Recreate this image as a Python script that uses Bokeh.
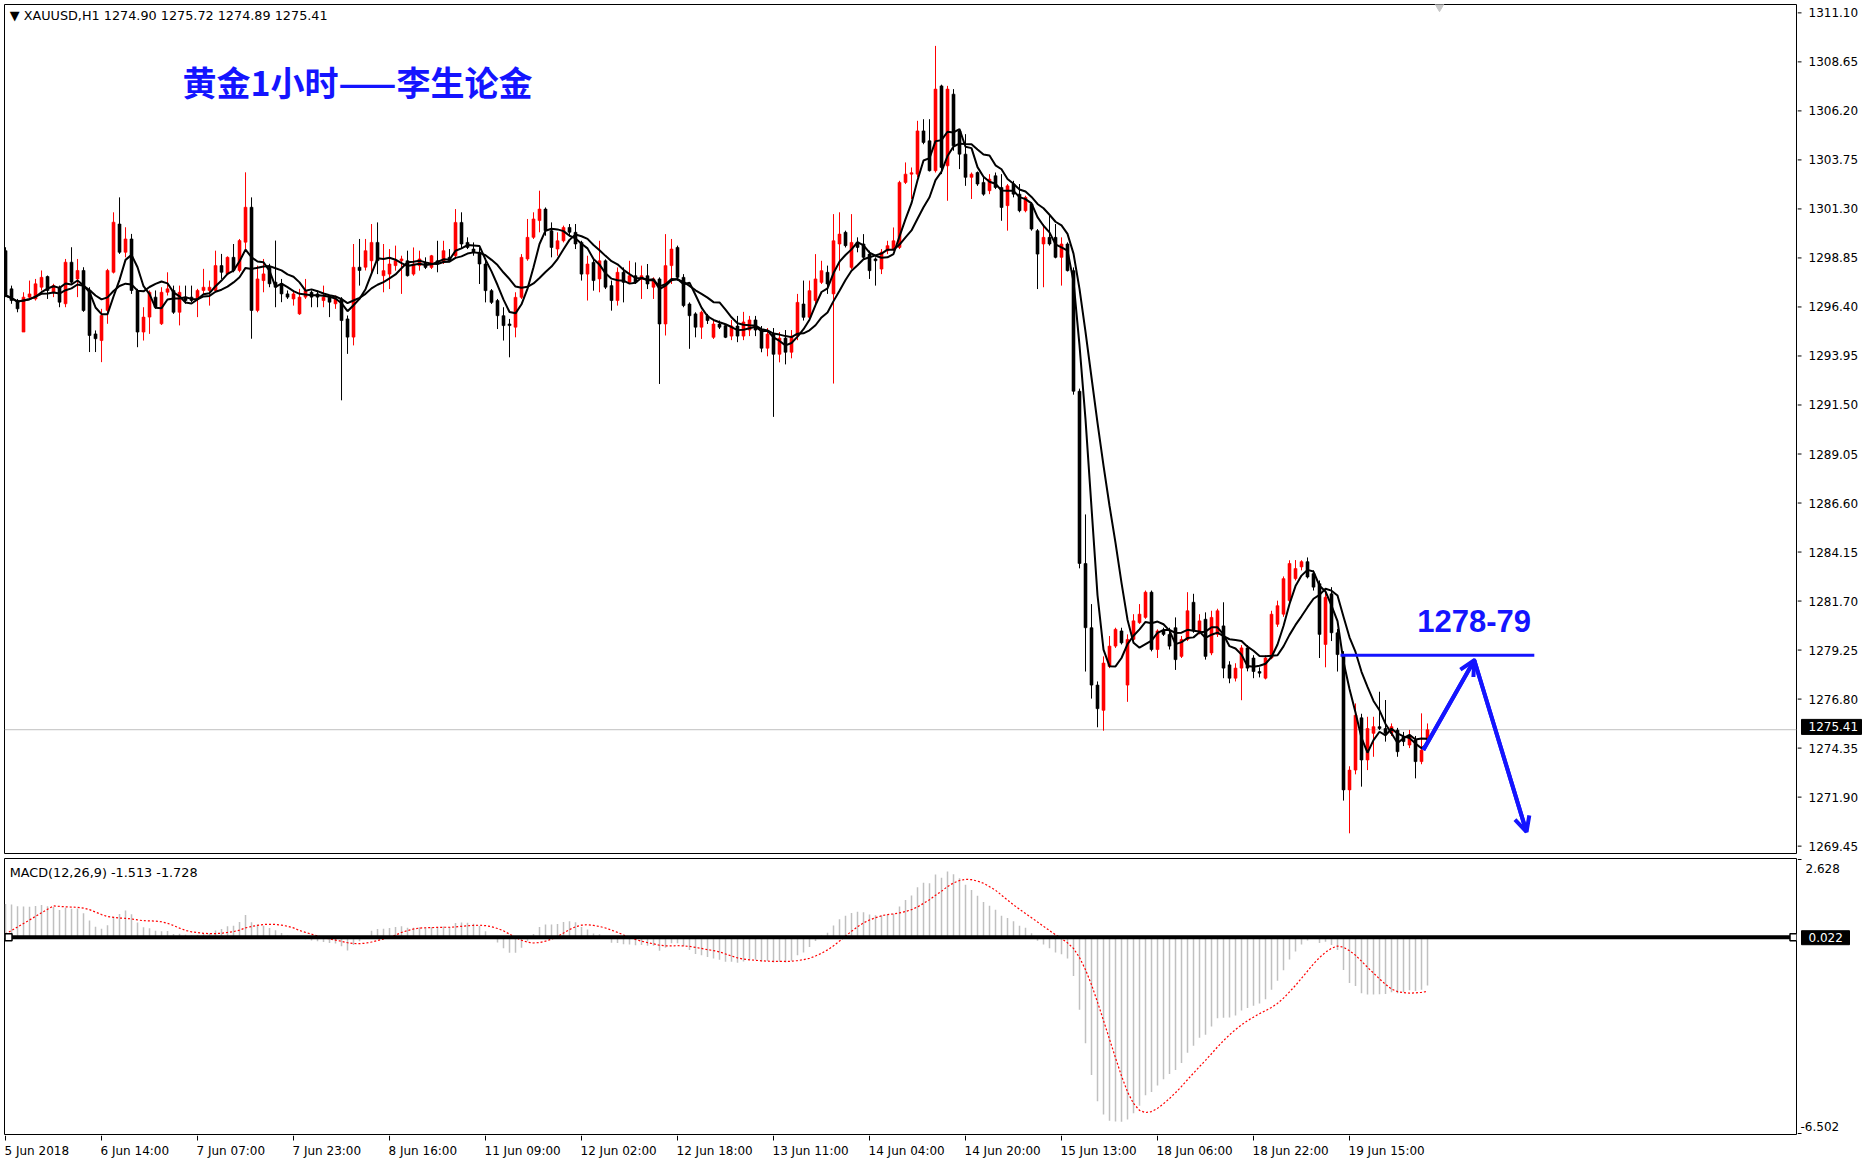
import numpy as np
import pandas as pd
from bokeh.plotting import figure
from bokeh.layouts import column, row
from bokeh.models import ColumnDataSource, Range1d, Span, Label, Arrow, OpenHead
from bokeh.embed import file_html
from bokeh.resources import INLINE
from bokeh.core.properties import value

# ---------------- data (XAUUSD H1) ----------------
opens = [
    1299.13, 1297.24, 1296.66, 1295.10, 1296.83, 1296.74, 1297.32, 1297.85, 1297.07, 1297.32,
    1296.50, 1298.56, 1297.73, 1298.15, 1297.16, 1295.01, 1294.68, 1296.17, 1298.06, 1300.45,
    1299.05, 1299.71, 1297.16, 1295.10, 1295.84, 1296.83, 1295.51, 1297.07, 1297.16, 1296.08,
    1296.83, 1296.83, 1296.74, 1297.16, 1297.16, 1297.16, 1298.39, 1297.98, 1298.80, 1298.15,
    1299.55, 1301.28, 1296.17, 1297.65, 1298.31, 1297.57, 1297.49, 1296.99, 1296.74, 1296.00,
    1296.83, 1297.07, 1296.99, 1296.66, 1296.83, 1296.50, 1296.74, 1295.75, 1294.85, 1298.31,
    1298.31, 1298.63, 1299.54, 1297.89, 1297.97, 1298.39, 1298.63, 1298.63, 1297.97, 1298.39,
    1298.55, 1298.30, 1298.63, 1298.55, 1298.80, 1298.88, 1300.53, 1299.54, 1299.21, 1299.05,
    1298.47, 1297.15, 1296.66, 1295.91, 1295.50, 1295.34, 1296.82, 1298.72, 1299.79, 1300.62,
    1301.19, 1300.12, 1299.21, 1299.62, 1300.28, 1300.04, 1299.54, 1297.97, 1298.55, 1297.73,
    1298.63, 1297.40, 1296.66, 1298.06, 1297.56, 1297.89, 1297.73, 1297.89, 1297.32, 1297.73,
    1295.50, 1298.39, 1299.29, 1297.81, 1296.49, 1296.00, 1295.34, 1295.91, 1294.84, 1295.50,
    1295.42, 1294.90, 1295.40, 1294.90, 1295.20, 1295.70, 1295.20, 1294.30, 1295.00, 1294.00,
    1294.80, 1294.10, 1294.90, 1296.49, 1295.83, 1296.66, 1297.56, 1298.06, 1296.99, 1299.46,
    1300.04, 1298.30, 1299.54, 1299.46, 1298.96, 1298.72, 1298.22, 1299.13, 1299.21, 1299.29,
    1302.51, 1302.92, 1302.92, 1305.06, 1304.57, 1303.09, 1307.29, 1303.33, 1306.88, 1305.06,
    1303.91, 1302.76, 1303.00, 1302.51, 1302.10, 1302.84, 1302.26, 1301.36, 1302.43, 1301.93,
    1301.11, 1301.44, 1300.12, 1299.46, 1299.79, 1299.79, 1298.80, 1299.46, 1298.14, 1292.17,
    1283.64, 1280.46, 1277.62, 1276.37, 1278.54, 1279.55, 1280.30, 1277.62, 1279.88, 1280.71,
    1280.97, 1282.22, 1279.38, 1280.30, 1280.13, 1280.46, 1279.04, 1279.88, 1281.72, 1280.21,
    1280.88, 1279.21, 1280.13, 1280.55, 1278.62, 1277.96, 1278.46, 1279.46, 1278.96, 1278.29,
    1277.96, 1278.96, 1280.63, 1281.13, 1281.80, 1282.89, 1283.47, 1283.73, 1283.14, 1282.64,
    1279.63, 1282.14, 1280.21, 1279.10, 1272.43, 1273.41, 1276.00, 1273.91, 1275.23, 1275.56,
    1275.47, 1275.23, 1275.39, 1275.07, 1274.65, 1274.90, 1273.83, 1274.90,
]
highs = [
    1299.30, 1297.40, 1296.74, 1297.07, 1297.65, 1297.73, 1298.15, 1297.90, 1297.49, 1297.40,
    1298.72, 1299.30, 1298.72, 1298.31, 1297.32, 1295.18, 1296.25, 1298.23, 1301.03, 1301.77,
    1300.29, 1299.96, 1297.24, 1296.33, 1297.16, 1297.16, 1297.32, 1298.06, 1297.40, 1297.40,
    1297.40, 1297.40, 1297.24, 1298.23, 1297.65, 1299.13, 1298.97, 1298.85, 1299.46, 1299.71,
    1303.01, 1301.77, 1298.39, 1298.72, 1298.48, 1299.63, 1297.73, 1297.16, 1297.16, 1297.24,
    1297.73, 1297.16, 1297.16, 1297.40, 1296.91, 1296.91, 1296.83, 1295.92, 1299.46, 1299.71,
    1299.71, 1300.45, 1300.53, 1299.46, 1299.21, 1299.38, 1298.88, 1299.13, 1299.29, 1299.13,
    1298.80, 1298.92, 1299.62, 1299.62, 1299.21, 1301.19, 1301.03, 1299.79, 1299.54, 1299.29,
    1298.63, 1297.23, 1296.74, 1296.33, 1295.75, 1297.07, 1298.96, 1300.70, 1301.03, 1302.10,
    1301.27, 1300.53, 1300.04, 1300.37, 1300.45, 1300.45, 1299.62, 1298.88, 1298.72, 1299.62,
    1298.70, 1297.65, 1298.30, 1298.30, 1298.63, 1298.55, 1298.39, 1298.47, 1297.81, 1297.81,
    1299.95, 1299.71, 1299.38, 1297.97, 1296.57, 1296.08, 1296.16, 1296.00, 1295.75, 1295.67,
    1295.50, 1295.70, 1295.90, 1296.10, 1295.90, 1295.90, 1295.40, 1295.30, 1295.30, 1295.10,
    1295.20, 1295.20, 1296.99, 1297.65, 1297.65, 1298.96, 1298.63, 1298.39, 1300.94, 1301.03,
    1300.12, 1300.94, 1299.79, 1299.95, 1299.13, 1298.80, 1299.21, 1299.62, 1300.28, 1302.59,
    1303.50, 1303.25, 1305.56, 1305.64, 1305.64, 1309.27, 1307.35, 1307.29, 1307.13, 1305.10,
    1304.90, 1303.00, 1303.05, 1302.76, 1302.92, 1303.00, 1302.92, 1302.43, 1302.59, 1302.43,
    1301.85, 1301.52, 1300.20, 1300.45, 1300.94, 1300.45, 1299.79, 1299.54, 1298.30, 1292.30,
    1286.07, 1281.63, 1277.80, 1279.04, 1280.05, 1280.46, 1280.46, 1280.13, 1281.13, 1281.63,
    1282.30, 1282.30, 1280.38, 1280.46, 1280.46, 1280.97, 1280.05, 1282.22, 1282.14, 1281.13,
    1281.22, 1281.30, 1281.40, 1281.72, 1278.80, 1278.70, 1279.60, 1279.60, 1279.10, 1278.50,
    1279.10, 1281.30, 1281.80, 1283.00, 1283.80, 1283.81, 1283.80, 1283.94, 1283.30, 1282.80,
    1282.30, 1282.47, 1280.40, 1279.30, 1273.60, 1276.71, 1276.20, 1276.05, 1276.05, 1277.29,
    1276.88, 1275.72, 1275.50, 1275.30, 1275.40, 1275.10, 1276.22, 1275.72,
]
lows = [
    1296.83, 1296.50, 1296.08, 1295.10, 1296.74, 1296.66, 1297.16, 1296.74, 1296.83, 1296.33,
    1296.33, 1297.49, 1296.83, 1296.10, 1294.11, 1294.11, 1293.61, 1295.51, 1298.00, 1298.97,
    1298.80, 1296.99, 1294.35, 1294.68, 1295.01, 1296.25, 1295.45, 1296.91, 1296.00, 1295.43,
    1296.50, 1296.58, 1295.84, 1296.99, 1296.41, 1297.07, 1297.73, 1297.92, 1298.06, 1298.06,
    1299.13, 1294.77, 1296.08, 1297.07, 1297.32, 1296.33, 1296.58, 1296.74, 1296.41, 1295.95,
    1296.74, 1296.33, 1296.33, 1296.33, 1295.84, 1296.25, 1291.72, 1294.02, 1294.44, 1297.40,
    1298.15, 1297.97, 1297.97, 1297.07, 1297.23, 1298.14, 1296.99, 1297.85, 1297.89, 1298.14,
    1298.22, 1298.22, 1298.06, 1298.47, 1298.60, 1298.80, 1299.21, 1299.21, 1298.88, 1297.48,
    1296.57, 1296.49, 1295.25, 1294.68, 1293.85, 1294.84, 1296.74, 1298.63, 1299.71, 1300.04,
    1299.87, 1298.80, 1298.88, 1299.54, 1299.87, 1299.21, 1297.65, 1296.66, 1297.15, 1297.07,
    1297.23, 1296.16, 1296.41, 1296.57, 1297.48, 1297.48, 1296.74, 1297.23, 1296.74, 1292.53,
    1294.93, 1297.48, 1297.65, 1296.33, 1294.27, 1294.84, 1294.76, 1295.50, 1294.76, 1295.25,
    1294.80, 1294.70, 1294.60, 1294.70, 1294.90, 1294.90, 1294.10, 1293.90, 1290.90, 1293.60,
    1293.50, 1293.80, 1294.70, 1295.67, 1295.67, 1296.49, 1297.48, 1296.99, 1292.55, 1298.14,
    1299.29, 1298.22, 1299.05, 1298.72, 1297.73, 1297.40, 1297.97, 1298.96, 1299.13, 1299.21,
    1302.43, 1301.69, 1302.76, 1304.40, 1303.05, 1303.00, 1302.92, 1301.60, 1304.08, 1303.17,
    1302.34, 1301.69, 1302.34, 1301.85, 1301.93, 1302.18, 1300.61, 1300.12, 1301.77, 1301.03,
    1301.03, 1300.12, 1297.23, 1297.32, 1299.38, 1298.75, 1297.40, 1298.10, 1292.00, 1283.40,
    1278.29, 1276.95, 1275.53, 1275.36, 1278.46, 1279.46, 1279.63, 1276.79, 1279.80, 1280.65,
    1280.90, 1279.29, 1278.96, 1280.05, 1279.38, 1278.37, 1278.96, 1279.80, 1280.21, 1280.13,
    1278.88, 1279.10, 1280.00, 1277.96, 1277.71, 1277.80, 1276.87, 1278.30, 1277.96, 1278.00,
    1277.90, 1278.90, 1280.50, 1281.00, 1281.70, 1282.80, 1283.30, 1282.90, 1282.30, 1278.96,
    1278.50, 1279.80, 1278.29, 1271.90, 1270.28, 1273.20, 1272.59, 1273.41, 1274.07, 1275.39,
    1274.82, 1275.10, 1274.07, 1274.60, 1274.50, 1273.00, 1273.70, 1274.89,
]
closes = [
    1296.91, 1296.66, 1296.25, 1296.83, 1296.99, 1297.49, 1297.81, 1297.16, 1297.40, 1296.58,
    1298.56, 1297.57, 1298.15, 1296.17, 1294.93, 1294.77, 1295.92, 1298.15, 1300.54, 1299.05,
    1299.71, 1297.16, 1295.10, 1295.84, 1297.07, 1296.33, 1297.07, 1297.24, 1296.08, 1297.07,
    1296.66, 1296.66, 1297.16, 1297.32, 1297.32, 1298.39, 1298.06, 1298.80, 1298.15, 1299.63,
    1301.28, 1296.17, 1297.73, 1297.98, 1297.49, 1297.32, 1296.99, 1296.83, 1296.99, 1296.83,
    1297.16, 1296.83, 1296.83, 1296.83, 1296.58, 1296.74, 1295.67, 1294.85, 1298.31, 1298.15,
    1299.13, 1299.54, 1298.63, 1298.14, 1298.47, 1298.63, 1298.72, 1297.89, 1298.47, 1298.72,
    1298.30, 1298.88, 1298.47, 1299.13, 1298.63, 1300.53, 1299.46, 1299.29, 1299.05, 1298.47,
    1297.15, 1296.57, 1295.91, 1295.42, 1295.42, 1296.82, 1298.80, 1299.79, 1300.70, 1301.19,
    1300.12, 1299.29, 1299.62, 1300.28, 1300.04, 1299.46, 1297.97, 1298.47, 1297.65, 1298.63,
    1297.32, 1296.66, 1298.06, 1297.56, 1297.89, 1297.56, 1297.89, 1297.48, 1297.73, 1295.50,
    1298.39, 1299.21, 1297.81, 1296.41, 1295.91, 1295.34, 1296.08, 1295.67, 1295.50, 1295.34,
    1294.84, 1295.40, 1294.90, 1295.60, 1295.70, 1295.20, 1294.30, 1295.00, 1294.00, 1294.80,
    1294.10, 1294.90, 1296.57, 1295.83, 1297.15, 1297.73, 1298.14, 1297.48, 1299.62, 1299.95,
    1299.38, 1299.54, 1299.29, 1298.80, 1298.14, 1298.63, 1299.05, 1299.38, 1299.62, 1302.51,
    1302.92, 1302.99, 1305.06, 1304.49, 1303.09, 1307.13, 1303.25, 1307.13, 1304.32, 1303.91,
    1302.76, 1302.92, 1302.43, 1301.93, 1302.67, 1302.26, 1301.27, 1302.34, 1301.93, 1301.11,
    1301.77, 1300.20, 1298.96, 1299.79, 1299.46, 1298.80, 1299.46, 1298.14, 1292.17, 1283.64,
    1280.46, 1277.62, 1276.45, 1278.71, 1279.55, 1280.38, 1279.71, 1279.88, 1280.80, 1281.13,
    1282.22, 1279.38, 1280.30, 1280.13, 1279.55, 1278.88, 1279.88, 1281.30, 1280.30, 1280.80,
    1279.04, 1280.97, 1281.30, 1278.46, 1277.96, 1278.46, 1279.46, 1278.46, 1278.29, 1278.21,
    1278.96, 1281.13, 1281.55, 1282.89, 1283.64, 1283.39, 1283.73, 1282.97, 1282.47, 1280.13,
    1281.97, 1280.21, 1279.13, 1272.43, 1273.41, 1276.13, 1273.91, 1275.47, 1275.56, 1275.47,
    1275.23, 1275.56, 1274.32, 1274.82, 1275.07, 1273.83, 1274.40, 1275.41,
]

time_labels = ["5 Jun 2018", "6 Jun 14:00", "7 Jun 07:00", "7 Jun 23:00", "8 Jun 16:00",
               "11 Jun 09:00", "12 Jun 02:00", "12 Jun 18:00", "13 Jun 11:00", "14 Jun 04:00",
               "14 Jun 20:00", "15 Jun 13:00", "18 Jun 06:00", "18 Jun 22:00", "19 Jun 15:00"]
time_label_bars = [0, 16, 32, 48, 64, 80, 96, 112, 128, 144, 160, 176, 192, 208, 224]

price_ticks = [1269.45, 1271.90, 1274.35, 1276.80, 1279.25, 1281.70, 1284.15, 1286.60, 1289.05,
               1291.50, 1293.95, 1296.40, 1298.85, 1301.30, 1303.75, 1306.20, 1308.65, 1311.10]
price_view = [1269.28, 1311.32]
macd_max, macd_min = 2.628, -6.502

ma_fast, ma_slow = 5, 10
macd_fast, macd_slow, macd_signal = 12, 26, 9
ema_fast_start, ema_slow_start = 1295.6, 1294.5   # EMA states before the first bar

bid_price = 1275.41
macd_hline = 0.022
hline_bars = [0.5, 298.0]
target_level = 1279.10
target_bars = [222.5, 254.8]
arrow_bars = [236.3, 244.8, 253.5]
arrow_prices = [1274.40, 1278.85, 1270.35]
shift_marker_bar = 239

header_text = "\u25BC XAUUSD,H1  1274.90 1275.72 1274.89 1275.41"
macd_text = "MACD(12,26,9) -1.513 -1.728"
title_text = "黄金1小时——李生论金"
target_text = "1278-79"

BLUE = "#1414ff"
FONT = "DejaVu Sans"

# ---------------- derived series ----------------
o = np.array(opens); h = np.array(highs); l = np.array(lows); c = np.array(closes)
n = len(c)
x = np.arange(n)
cols = np.where(c >= o, "#ff0000", "#000000")
src = ColumnDataSource(dict(x=x, o=o, h=h, l=l, c=c, top=np.maximum(o, c),
                            bottom=np.minimum(o, c), color=cols))

ma5 = pd.Series(c).rolling(ma_fast, min_periods=1).mean().values
ma10 = pd.Series(c).rolling(ma_slow, min_periods=1).mean().values

a_f, a_s = 2.0 / (macd_fast + 1), 2.0 / (macd_slow + 1)
ef, es = ema_fast_start, ema_slow_start
macd = np.empty(n)
for i in range(n):
    ef += a_f * (c[i] - ef)
    es += a_s * (c[i] - es)
    macd[i] = ef - es
padded = np.concatenate([np.zeros(macd_signal - 1), macd])
signal = np.convolve(padded, np.ones(macd_signal) / macd_signal, mode="valid")

# ---------------- layout constants (pixels) ----------------
PW = 1797          # chart panels width (frame 4..1796)
AW = 65            # price-scale strip width
BL, BR = 4, 1
MAIN_H, MAIN_BT, MAIN_BB = 857, 4, 4
MACD_H, MACD_BT, MACD_BB = 278, 1, 1
TIME_H = 29
x_rng = Range1d(-0.17, 298.5)


def strip_range(lo, hi, height, bt, bb):
    ppu = (height - bt - bb) / (hi - lo)
    return Range1d(lo - bb / ppu, hi + bt / ppu)


def bare(fig):
    fig.xgrid.visible = False
    fig.ygrid.visible = False
    fig.background_fill_color = "white"
    fig.border_fill_color = "white"


# ---------------- main price panel ----------------
p = figure(width=PW, height=MAIN_H, x_range=x_rng, y_range=Range1d(*price_view),
           output_backend="svg", toolbar_location=None, x_axis_location=None,
           y_axis_location=None, min_border_left=BL, min_border_right=BR,
           min_border_top=MAIN_BT, min_border_bottom=MAIN_BB)
bare(p)
p.outline_line_color = "#000000"

bid = Span(location=bid_price, dimension="width", line_color="#c0c0c0", line_width=1)
bid.level = "underlay"
p.add_layout(bid)

p.segment(x0="x", y0="l", x1="x", y1="h", color="color", line_width=1, source=src)
p.vbar(x="x", width=0.5, top="top", bottom="bottom", fill_color="color",
       line_color="color", line_width=0.6, source=src)
p.line(x, ma10, line_color="#000000", line_width=2)
p.line(x, ma5, line_color="#000000", line_width=2)

p.scatter([shift_marker_bar], [1311.22], marker="inverted_triangle", size=9,
          fill_color="#c8c8c8", line_color="#c8c8c8")

p.line(target_bars, [target_level, target_level], line_color=BLUE, line_width=3)
p.line(arrow_bars, arrow_prices, line_color=BLUE, line_width=4, line_join="round")
for k in range(2):
    p.add_layout(Arrow(end=OpenHead(size=15, line_color=BLUE, line_width=4),
                       x_start=arrow_bars[k], y_start=arrow_prices[k],
                       x_end=arrow_bars[k + 1], y_end=arrow_prices[k + 1],
                       line_color=BLUE, line_width=4))

p.add_layout(Label(x=0.7, y=1310.78, text=header_text, text_font=FONT,
                   text_font_size="12.8px", text_color="#000000", text_baseline="middle"))
p.add_layout(Label(x=29.5, y=1307.49, text=title_text, text_font="Noto Sans CJK SC",
                   text_font_size="34px", text_font_style="bold", text_color=BLUE,
                   text_baseline="middle"))
p.add_layout(Label(x=235.3, y=1280.78, text=target_text, text_font="Liberation Sans",
                   text_font_size="31px", text_font_style="bold", text_color=BLUE,
                   text_baseline="middle"))

# price scale strip
pa = figure(width=AW, height=MAIN_H, x_range=Range1d(0, AW),
            y_range=strip_range(price_view[0], price_view[1], MAIN_H, MAIN_BT, MAIN_BB),
            output_backend="svg", toolbar_location=None, x_axis_location=None,
            y_axis_location=None, min_border_left=0, min_border_right=0,
            min_border_top=0, min_border_bottom=0)
bare(pa)
pa.outline_line_color = None
nt = len(price_ticks)
pa.segment(x0=[0] * nt, y0=price_ticks, x1=[4] * nt, y1=price_ticks,
           line_color="#000000", line_width=1)
pa.text(x=[11] * nt, y=price_ticks, text=["%.2f" % v for v in price_ticks],
        text_font=value(FONT), text_font_size=value("12px"), text_color="#000000",
        text_align=value("left"), text_baseline=value("middle"))
pa.rect(x=[34], y=[bid_price], width=[60], height=[15], height_units="screen",
        fill_color="#000000", line_color="#000000")
pa.text(x=[11], y=[bid_price], text=["%.2f" % bid_price], text_font=value(FONT),
        text_font_size=value("12px"), text_color="#ffffff", text_align=value("left"),
        text_baseline=value("middle"))

# ---------------- MACD panel ----------------
m = figure(width=PW, height=MACD_H, x_range=x_rng, y_range=Range1d(macd_min, macd_max),
           output_backend="svg", toolbar_location=None, x_axis_location=None,
           y_axis_location=None, min_border_left=BL, min_border_right=BR,
           min_border_top=MACD_BT, min_border_bottom=MACD_BB)
bare(m)
m.outline_line_color = "#000000"

m.segment(x0=x, y0=np.zeros(n), x1=x, y1=macd, line_color="#c0c0c0", line_width=1.5)
m.line(x, signal, line_color="#ff0000", line_width=1.2, line_dash="2 2")
m.line(hline_bars, [macd_hline, macd_hline], line_color="#000000", line_width=4)
m.scatter(hline_bars, [macd_hline, macd_hline], marker="square", size=7,
          fill_color="white", line_color="#000000", line_width=1.5)
m.add_layout(Label(x=0.7, y=2.17, text=macd_text, text_font=FONT, text_font_size="12.8px",
                   text_color="#000000", text_baseline="middle"))

ma = figure(width=AW, height=MACD_H, x_range=Range1d(0, AW),
            y_range=strip_range(macd_min, macd_max, MACD_H, MACD_BT, MACD_BB),
            output_backend="svg", toolbar_location=None, x_axis_location=None,
            y_axis_location=None, min_border_left=0, min_border_right=0,
            min_border_top=0, min_border_bottom=0)
bare(ma)
ma.outline_line_color = None
ma.segment(x0=[0, 0], y0=[macd_max, macd_min], x1=[4, 4], y1=[macd_max, macd_min],
           line_color="#000000", line_width=1)
ma.text(x=[8], y=[macd_max], text=["%.3f" % macd_max], text_font=value(FONT),
        text_font_size=value("12px"), text_color="#000000", text_align=value("left"),
        text_baseline=value("top"), y_offset=5)
ma.text(x=[3], y=[macd_min], text=["%.3f" % macd_min], text_font=value(FONT),
        text_font_size=value("12px"), text_color="#000000", text_align=value("left"),
        text_baseline=value("bottom"), y_offset=-3)
ma.rect(x=[28], y=[macd_hline], width=[48], height=[14], height_units="screen",
        fill_color="#000000", line_color="#000000")
ma.text(x=[11], y=[macd_hline], text=["%.3f" % macd_hline], text_font=value(FONT),
        text_font_size=value("12px"), text_color="#ffffff", text_align=value("left"),
        text_baseline=value("middle"))

# ---------------- time axis ----------------
t = figure(width=PW, height=TIME_H, x_range=x_rng, y_range=Range1d(0, TIME_H),
           output_backend="svg", toolbar_location=None, x_axis_location=None,
           y_axis_location=None, min_border_left=BL, min_border_right=BR,
           min_border_top=0, min_border_bottom=0)
bare(t)
t.outline_line_color = None
nl = len(time_label_bars)
t.segment(x0=time_label_bars, y0=[TIME_H] * nl, x1=time_label_bars, y1=[TIME_H - 5] * nl,
          line_color="#000000", line_width=1)
t.text(x=time_label_bars, y=[TIME_H - 15] * nl, text=time_labels,
       text_font=value(FONT), text_font_size=value("12px"), text_color="#000000",
       text_align=value("left"), text_baseline=value("middle"), x_offset=-1)

layout = column(row(p, pa, spacing=0), row(m, ma, spacing=0), t, spacing=0)
open("out.html", "w").write(file_html(layout, INLINE))
